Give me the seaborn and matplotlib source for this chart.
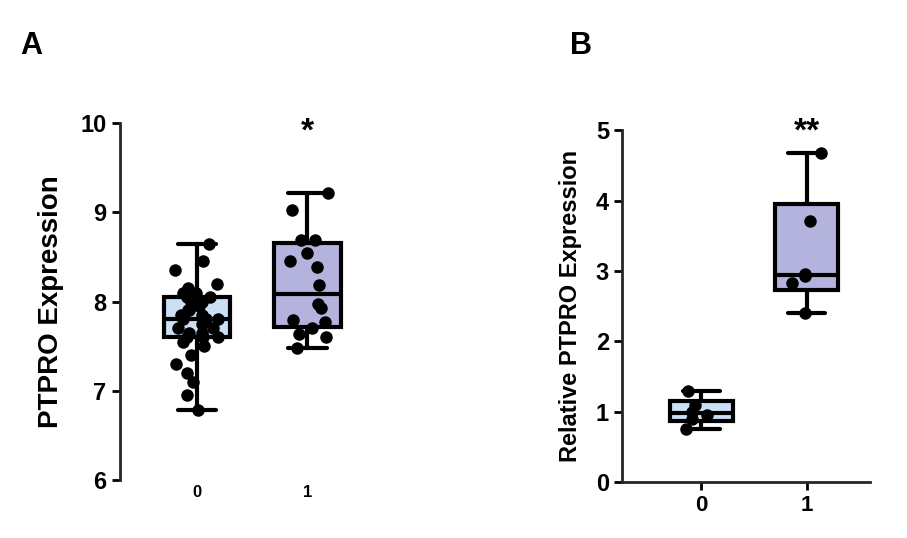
import numpy as np
import pandas as pd
import matplotlib
matplotlib.use("Agg")
import matplotlib.pyplot as plt
import seaborn as sns

# ── Data ─────────────────────────────────────────────────────────────────────
healthy = [8.65, 8.45, 8.35, 8.2, 8.15, 8.1, 8.1, 8.05, 8.05, 8.0, 8.0, 7.95,
           7.9, 7.9, 7.85, 7.85, 7.8, 7.8, 7.8, 7.75, 7.7, 7.7, 7.65, 7.65,
           7.6, 7.6, 7.6, 7.55, 7.5, 7.4, 7.3, 7.2, 7.1, 6.95, 6.78]
tuberculosis = [9.22, 9.03, 8.69, 8.69, 8.55, 8.45, 8.39, 8.19, 7.97, 7.93,
                7.79, 7.77, 7.7, 7.64, 7.6, 7.48]
control = [1.3, 1.1, 1.0, 0.95, 0.9, 0.75]
h37ra = [4.67, 3.71, 2.95, 2.93, 2.83, 2.40]

groups_a = ["Healthy", "Tuberculosis"]
groups_b = ["Control", "H37Ra"]
colors = ["#cce0f5", "#b3b3dd"]

sns.set_style("white")
plt.rcParams["font.family"] = ["Liberation Sans", "DejaVu Sans"]
plt.rcParams["text.color"] = "black"
plt.rcParams["axes.labelcolor"] = "black"
plt.rcParams["xtick.color"] = "black"
plt.rcParams["ytick.color"] = "black"

df_a = pd.DataFrame({"group": ["Healthy"] * len(healthy) + ["Tuberculosis"] * len(tuberculosis),
                     "value": healthy + tuberculosis})
df_b = pd.DataFrame({"group": ["Control"] * len(control) + ["H37Ra"] * len(h37ra),
                     "value": control + h37ra})

fig = plt.figure(figsize=(9.07, 5.38), dpi=100)
ax_a = fig.add_axes([0.132, 0.108, 0.28, 0.663])
ax_b = fig.add_axes([0.686, 0.104, 0.273, 0.654])


def box_stats(values):
    # GraphPad-style quartiles, whiskers at min/max
    v = np.asarray(values)
    q1, med, q3 = np.percentile(v, [25, 50, 75], method="weibull")
    return dict(med=med, q1=q1, q3=q3, whislo=v.min(), whishi=v.max(), fliers=[])


def draw(ax, df, order, series, jitter):
    bp = ax.bxp([box_stats(s) for s in series], positions=range(len(series)),
                widths=0.6, patch_artist=True, showfliers=False,
                boxprops=dict(linewidth=3, edgecolor="black"),
                medianprops=dict(linewidth=3, color="black"),
                whiskerprops=dict(linewidth=3, color="black"),
                capprops=dict(linewidth=3, color="black"), capwidths=0.35)
    for patch, c in zip(bp["boxes"], colors):
        patch.set_facecolor(c)
    sns.stripplot(data=df, x="group", y="value", order=order, color="black",
                  size=9, jitter=jitter, ax=ax, zorder=5)
    ax.set_xlabel("")
    sns.despine(ax=ax)
    ax.spines["left"].set_linewidth(2)
    ax.spines["bottom"].set_linewidth(2)
    ax.tick_params(axis="y", length=6, width=2, labelsize=17, left=True)
    for lbl in ax.get_yticklabels() + ax.get_xticklabels():
        lbl.set_fontweight("bold")


draw(ax_a, df_a, groups_a, [healthy, tuberculosis], 0.2)
ax_a.set_ylim(6, 10)
ax_a.set_yticks([6, 7, 8, 9, 10])
ax_a.set_xlim(-0.7, 1.6)
ax_a.spines["bottom"].set_visible(False)
ax_a.tick_params(axis="x", length=0, labelsize=12)
ax_a.set_ylabel("PTPRO Expression", fontsize=20, fontweight="bold", labelpad=12)
ax_a.text(1, 9.8, "*", ha="center", fontsize=24, fontweight="bold")
fig.text(0.022, 0.9, "A", fontsize=22, fontweight="bold")

draw(ax_b, df_b, groups_b, [control, h37ra], 0.15)
ax_b.set_ylim(0, 5)
ax_b.set_yticks([0, 1, 2, 3, 4, 5])
ax_b.set_xlim(-0.75, 1.6)
ax_b.tick_params(axis="x", length=6, width=2, labelsize=16, bottom=True)
ax_b.set_ylabel("Relative PTPRO Expression", fontsize=17, fontweight="bold", labelpad=10)
ax_b.text(1, 4.85, "**", ha="center", fontsize=24, fontweight="bold")
fig.text(0.628, 0.9, "B", fontsize=22, fontweight="bold")

fig.savefig("out.png", dpi=100)
